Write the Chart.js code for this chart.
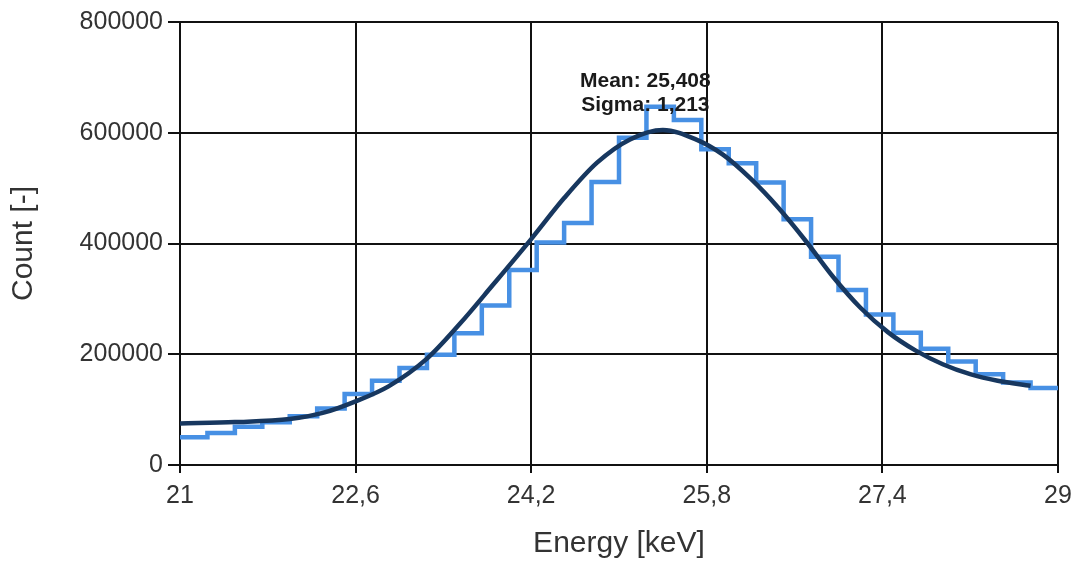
<!DOCTYPE html>
<html>
<head>
<meta charset="utf-8">
<title>Energy spectrum</title>
<script src="https://cdn.jsdelivr.net/npm/chart.js@4/dist/chart.umd.min.js"></script>
<style>
  html, body { margin: 0; padding: 0; background: #fff; }
  #chart { display: block; }
</style>
</head>
<body>
<canvas id="chart" width="1077" height="566"></canvas>
<script>
// Histogram bins (left edge, keV) and counts, last edge closes the step
const binEdges = [21, 21.25, 21.5, 21.75, 22, 22.25, 22.5, 22.75, 23, 23.25, 23.5, 23.75,
  24, 24.25, 24.5, 24.75, 25, 25.25, 25.5, 25.75, 26, 26.25, 26.5, 26.75,
  27, 27.25, 27.5, 27.75, 28, 28.25, 28.5, 28.75, 29];
const binCounts = [50000, 58000, 69000, 77000, 88000, 102000, 128000, 152000, 175000, 199000, 238000, 288000,
  352000, 402000, 437000, 511000, 591000, 647000, 623000, 570000, 545000, 510000, 444000, 376000,
  316000, 272000, 239000, 210000, 187000, 164000, 149000, 139000, 139000];

// Fitted curve
const fitEnergy = [21, 21.5, 22, 22.3, 22.6, 22.9, 23.25, 23.55, 23.85, 24.2, 24.5, 24.8,
  25.1, 25.4, 25.7, 25.95, 26.2, 26.45, 26.7, 26.95, 27.2, 27.45, 27.7, 27.95, 28.2, 28.45, 28.75];
const fitCount = [75000, 77500, 83000, 94000, 115000, 142000, 192000, 255000, 325000, 408000, 482000, 546000,
  588000, 605000, 588000, 560000, 517000, 465000, 405000, 340000, 284000, 240000, 207000, 182000, 164000, 152000, 143000];

const xTicks = [21, 22.6, 24.2, 25.8, 27.4, 29];
const yTicks = [0, 200000, 400000, 600000, 800000];

const fitLabel = ["Mean: 25,408", "Sigma: 1,213"];
const labelAt = { x: 25.24, y: [693000, 650000] };

const toPoints = (xs, ys) => xs.map((x, i) => ({ x: x, y: ys[i] }));

const fontFamily = "'Liberation Sans', Arial, sans-serif";

// Fit result text above the peak
const fitText = {
  id: "fitText",
  afterDatasetsDraw(chart) {
    const { ctx, scales } = chart;
    ctx.save();
    ctx.font = "bold 21px " + fontFamily;
    ctx.fillStyle = "#1a1a1a";
    ctx.textAlign = "center";
    ctx.textBaseline = "middle";
    fitLabel.forEach((t, i) => {
      ctx.fillText(t, scales.x.getPixelForValue(labelAt.x), scales.y.getPixelForValue(labelAt.y[i]));
    });
    ctx.restore();
  }
};

new Chart(document.getElementById("chart"), {
  type: "scatter",
  data: {
    datasets: [
      {
        label: "Fit",
        data: toPoints(fitEnergy, fitCount),
        showLine: true,
        borderColor: "#17375f",
        borderWidth: 4.5,
        pointRadius: 0,
        cubicInterpolationMode: "monotone",
        order: 0
      },
      {
        label: "Counts",
        data: toPoints(binEdges, binCounts),
        showLine: true,
        stepped: "before",
        borderColor: "#4790e4",
        borderWidth: 4.5,
        pointRadius: 0,
        order: 1
      }
    ]
  },
  options: {
    responsive: false,
    animation: false,
    layout: { padding: { top: 22, right: 19, left: 0, bottom: 0 } },
    plugins: {
      legend: { display: false },
      tooltip: { enabled: false }
    },
    scales: {
      x: {
        type: "linear",
        min: 21,
        max: 29,
        afterBuildTicks: (axis) => { axis.ticks = xTicks.map(v => ({ value: v })); },
        afterFit: (axis) => {
          axis.height = 101;
          axis.paddingLeft = 0;
          axis.paddingRight = 0;
        },
        ticks: {
          callback: (v) => String(v).replace(".", ","),
          font: { family: fontFamily, size: 25 },
          color: "#333",
          padding: 8,
          maxRotation: 0
        },
        grid: { color: "#111", lineWidth: 2, tickLength: 8, tickColor: "#111" },
        border: { color: "#111", width: 2 },
        title: {
          display: true,
          text: "Energy [keV]",
          font: { family: fontFamily, size: 30 },
          color: "#333",
          padding: { top: 0, bottom: 4 }
        }
      },
      y: {
        min: 0,
        max: 800000,
        afterBuildTicks: (axis) => { axis.ticks = yTicks.map(v => ({ value: v })); },
        afterFit: (axis) => {
          axis.width = 180;
          axis.paddingTop = 0;
          axis.paddingBottom = 0;
        },
        ticks: {
          callback: (v) => String(v),
          font: { family: fontFamily, size: 25 },
          color: "#333",
          padding: 5
        },
        grid: { color: "#111", lineWidth: 2, tickLength: 12, tickColor: "#111" },
        border: { color: "#111", width: 2 },
        title: {
          display: true,
          text: "Count [-]",
          font: { family: fontFamily, size: 30 },
          color: "#333",
          padding: { top: 6, bottom: 0 }
        }
      }
    }
  },
  plugins: [fitText]
});
</script>
</body>
</html>
